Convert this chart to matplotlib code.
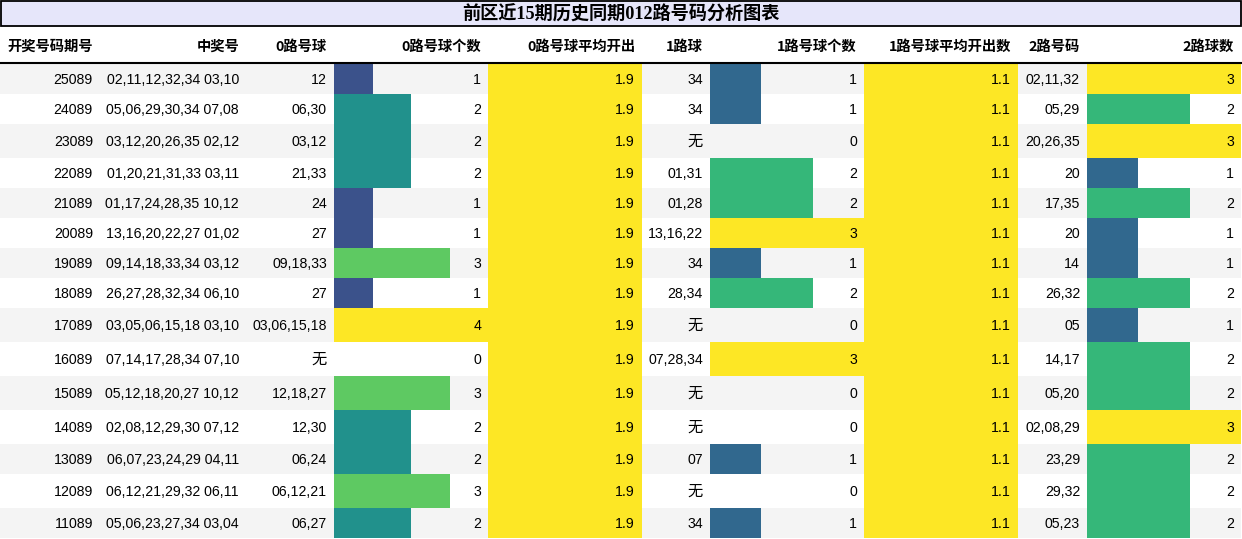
import matplotlib
matplotlib.use('Agg')
import matplotlib.pyplot as plt
from matplotlib.patches import Rectangle

# Table data
title = '前区近15期历史同期012路号码分析图表'
headers = ['开奖号码期号', '中奖号', '0路号球', '0路号球个数', '0路号球平均开出',
           '1路球', '1路号球个数', '1路号球平均开出数', '2路号码', '2路球数']

periods = ['25089', '24089', '23089', '22089', '21089', '20089', '19089', '18089',
           '17089', '16089', '15089', '14089', '13089', '12089', '11089']
draws = ['02,11,12,32,34 03,10', '05,06,29,30,34 07,08', '03,12,20,26,35 02,12',
         '01,20,21,31,33 03,11', '01,17,24,28,35 10,12', '13,16,20,22,27 01,02',
         '09,14,18,33,34 03,12', '26,27,28,32,34 06,10', '03,05,06,15,18 03,10',
         '07,14,17,28,34 07,10', '05,12,18,20,27 10,12', '02,08,12,29,30 07,12',
         '06,07,23,24,29 04,11', '06,12,21,29,32 06,11', '05,06,23,27,34 03,04']
road0 = ['12', '06,30', '03,12', '21,33', '24', '27', '09,18,33', '27',
         '03,06,15,18', '无', '12,18,27', '12,30', '06,24', '06,12,21', '06,27']
road0_cnt = [1, 2, 2, 2, 1, 1, 3, 1, 4, 0, 3, 2, 2, 3, 2]
road0_avg = [1.9] * 15
road1 = ['34', '34', '无', '01,31', '01,28', '13,16,22', '34', '28,34',
         '无', '07,28,34', '无', '无', '07', '无', '34']
road1_cnt = [1, 1, 0, 2, 2, 3, 1, 2, 0, 3, 0, 0, 1, 0, 1]
road1_avg = [1.1] * 15
road2 = ['02,11,32', '05,29', '20,26,35', '20', '17,35', '20', '14', '26,32',
         '05', '14,17', '05,20', '02,08,29', '23,29', '29,32', '05,23']
road2_cnt = [3, 2, 3, 1, 2, 1, 1, 2, 1, 2, 2, 3, 2, 2, 2]

columns = [periods, draws, road0, road0_cnt, road0_avg,
           road1, road1_cnt, road1_avg, road2, road2_cnt]
bar_cols = {3, 4, 6, 7, 9}

# Layout (pixels)
W, H = 1242, 539
col_edges = [0, 100, 246, 334, 488, 642, 710, 864, 1018, 1087, 1241]
title_h = 27
header_bottom = 64
pad = 7

num_font = ['Liberation Sans', 'Noto Sans CJK SC']
head_font = ['Noto Sans CJK SC', 'DejaVu Sans']
title_font = ['Liberation Serif', 'Noto Sans CJK SC']

fig = plt.figure(figsize=(W / 100, H / 100), dpi=100)
ax = fig.add_axes([0, 0, 1, 1])
ax.set_xlim(0, W)
ax.set_ylim(H, 0)
ax.axis('off')

# Title bar
ax.add_patch(Rectangle((0.75, 0.75), col_edges[-1] - 0.75, title_h - 1.5,
                       facecolor='#e6e6fa', edgecolor='black', lw=1.3))
ax.text(col_edges[-1] / 2, title_h / 2 + 0.5, title, ha='center', va='center',
        fontsize=13.1, fontweight='bold', family=title_font)

# Header row
for i, h in enumerate(headers):
    ax.text(col_edges[i + 1] - pad, (title_h + header_bottom) / 2 + 1, h,
            ha='right', va='center', fontsize=10.3, fontweight='bold',
            family=head_font)
ax.plot([0, col_edges[-1]], [header_bottom - 1, header_bottom - 1],
        color='black', lw=1.5)

# Data rows
y = header_bottom
for r in range(len(periods)):
    cells = [col[r] for col in columns]
    rh = 34 if '无' in cells else 30
    bg = '#f4f4f4' if r % 2 == 0 else 'white'
    ax.add_patch(Rectangle((0, y), col_edges[-1], rh, facecolor=bg, lw=0))
    for c, val in enumerate(cells):
        x0, x1 = col_edges[c], col_edges[c + 1]
        if c in bar_cols:
            frac = val / max(columns[c])
            if frac > 0:
                ax.add_patch(Rectangle((x0, y), (x1 - x0) * frac, rh,
                                       facecolor=plt.cm.viridis(frac), lw=0))
        txt = str(val)
        ax.text(x1 - pad, y + rh / 2 + 0.5, txt, ha='right', va='center',
                fontsize=11 if txt == '无' else 10.2, family=num_font,
                color='black')
    y += rh

fig.savefig('out.png', dpi=100)
